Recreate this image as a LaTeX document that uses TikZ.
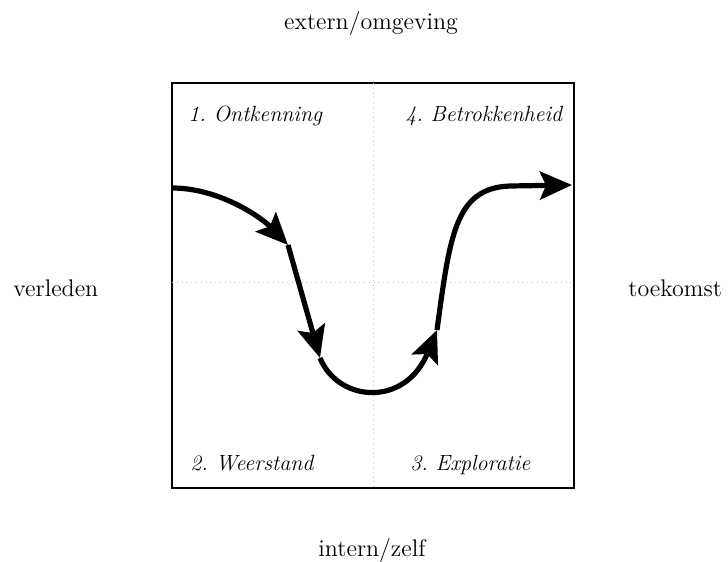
\documentclass[tikz,border=0pt]{standalone}
\usetikzlibrary{arrows.meta}
\begin{document}
\begin{tikzpicture}[x=0.5pt, y=-0.5pt, >={Stealth[length=16pt, width=14pt, inset=3pt]},
    outer/.style={inner sep=0pt, font=\fontsize{12}{14}\selectfont},
    phase/.style={inner sep=0pt, anchor=base west, font=\fontsize{11}{13}\selectfont\itshape\frenchspacing}]
    \useasboundingbox (0, 0) rectangle (728, 562);

    \draw[line width=0.6pt] (172, 83) rectangle (574, 488);
    \begin{scope}[gray!50, dotted]
      \draw (373, 83) -- (373, 488);
      \draw (172, 282) -- (574, 282);
    \end{scope}

    \foreach \n/\x/\y/\t in {1/188/121/1. Ontkenning, 2/190/470/2. Weerstand,
                             3/410/470/3. Exploratie, 4/405/121/4. Betrokkenheid} {
      \node[phase] (q\n) at (\x, \y) {\t};
    }

    \node[outer, anchor=base] (extern) at (371, 29) {extern/omgeving};
    \node[outer, anchor=base] (intern) at (372, 556) {intern/zelf};
    \node[outer, anchor=base west] (verleden) at (13, 296) {verleden};
    \node[outer, anchor=base west] (toekomst) at (628, 296) {toekomst};

    \coordinate (c0) at (172, 188);
    \coordinate (c1) at (288, 245);
    \coordinate (c2) at (320, 358);
    \coordinate (c3) at (437, 330);
    \coordinate (c4) at (572, 185);
    \begin{scope}[line width=2.6pt]
      \draw[->] (c0) .. controls (220, 188) and (262, 218) .. (c1);
      \draw[->] (c1) -- (c2);
      \draw[->] (c2) .. controls (338, 402) and (405, 408) .. (c3);
      \draw[->] (c3) .. controls (450, 235) and (455, 188) .. (510, 186) -- (c4);
    \end{scope}
  \end{tikzpicture}
\end{document}
